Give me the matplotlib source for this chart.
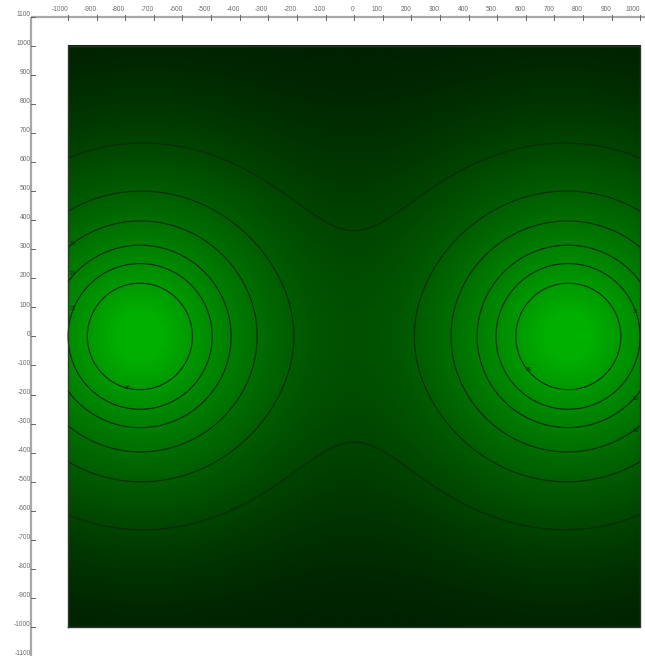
import numpy as np
import matplotlib
matplotlib.use('Agg')
import matplotlib.pyplot as plt
from matplotlib.colors import LinearSegmentedColormap, PowerNorm

plt.rcParams['font.family'] = ['Liberation Sans', 'DejaVu Sans']

# two sources, field falls off with distance
peak_x = [-750, 750]
peak_y = [0, 0]
decay_len = 250.0

# contour levels (field units)
contour_levels = [0.0713, 0.137, 0.206, 0.287, 0.369, 0.483]

# labels printed on the contours and where they sit
label_text = ['18', '19', '21', '26', '21', '19', '18', '26']
label_x = [-985, -985, -985, -790, 985, 985, 985, 610]
label_y = [320, 215, 95, -175, 85, -215, -325, -115]

x_ticks = [-1000, -900, -800, -700, -600, -500, -400, -300, -200, -100, 0,
           100, 200, 300, 400, 500, 600, 700, 800, 900, 1000]
y_ticks = [1100, 1000, 900, 800, 700, 600, 500, 400, 300, 200, 100, 0,
           -100, -200, -300, -400, -500, -600, -700, -800, -900, -1000, -1100]

# grid of the field
gx = np.linspace(-1000, 1000, 401)
gy = np.linspace(-1000, 1000, 401)
X, Y = np.meshgrid(gx, gy)
F = np.zeros_like(X)
for px, py in zip(peak_x, peak_y):
    F += np.exp(-np.hypot(X - px, Y - py) / decay_len)

fig = plt.figure(figsize=(6.45, 6.56), dpi=100)
ax = fig.add_axes([0, 0, 1, 1])
ax.set_xlim(-1238, 1017)
ax.set_ylim(-1100, 1158)
ax.axis('off')

cmap = LinearSegmentedColormap.from_list('greens', ['#012201', '#00b000'])
ax.imshow(np.log(F), extent=(-1000, 1000, -1000, 1000), origin='lower',
          cmap=cmap, norm=PowerNorm(gamma=1.6, vmin=-4.3, vmax=-0.3),
          interpolation='bilinear', aspect='auto', zorder=1)
ax.plot([-1000, 1000, 1000, -1000, -1000], [-1000, -1000, 1000, 1000, -1000],
        color='#333333', lw=1.0, zorder=3)

ax.contour(X, Y, F, levels=contour_levels, colors='#0a2a0a',
           linewidths=0.8, zorder=2)
for t, lx, ly in zip(label_text, label_x, label_y):
    ax.text(lx, ly, t, fontsize=4, color='#0a2a0a', ha='center',
            va='center', zorder=3)

# axis lines, top and left
axis_c = '#a8a8a8'
x0 = -1129
ax.plot([x0, 1017], [1100, 1100], color=axis_c, lw=1.6, zorder=4,
        solid_capstyle='butt')
ax.plot([x0, x0], [1100, -1100], color=axis_c, lw=1.6, zorder=4,
        solid_capstyle='butt')
for xt in x_ticks:
    ax.plot([xt, xt], [1090, 1108], color='#666666', lw=0.7, zorder=5)
    ax.text(xt, 1112, str(xt), fontsize=4.8, color='#6a6a6a',
            ha='right', va='bottom', zorder=5)
for yt in y_ticks:
    ax.plot([x0, x0 + 12], [yt, yt], color='#666666', lw=0.7, zorder=5)
    ax.text(x0 - 2, yt - 4, str(yt), fontsize=4.8, color='#6a6a6a',
            ha='right', va='bottom', zorder=5)

fig.savefig('out.png', dpi=100, facecolor='white')
